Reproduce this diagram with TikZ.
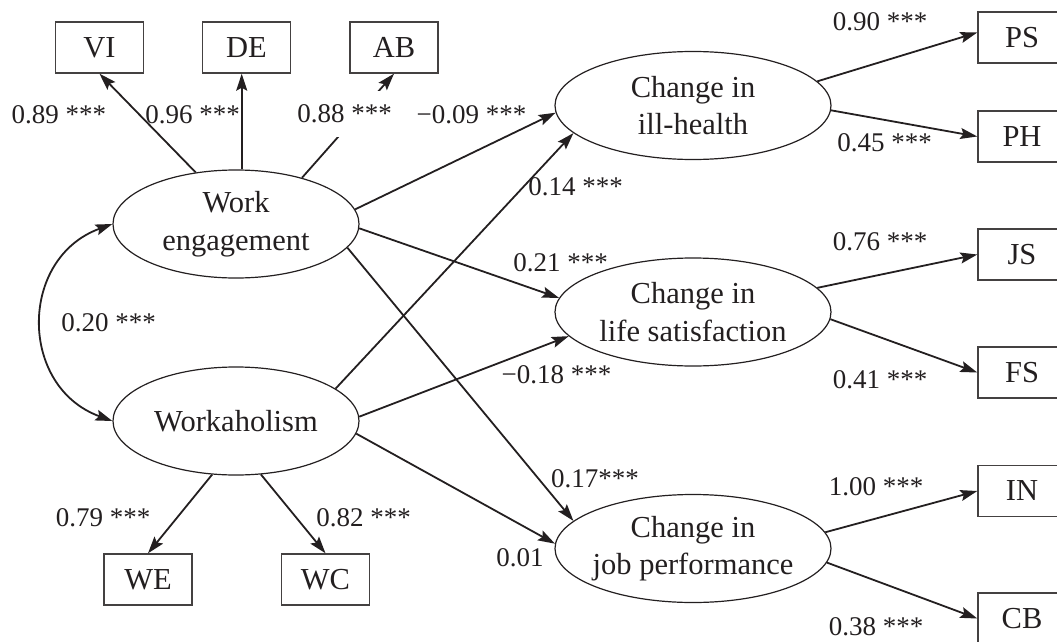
\documentclass[tikz,border=0pt]{standalone}
\usepackage{fontspec}
\setmainfont{Liberation Serif}
\usetikzlibrary{arrows.meta,shapes.geometric}
\definecolor{ink}{HTML}{231F20}
\tikzset{latent/.style={ellipse,draw=ink,line width=1.2pt,minimum width=#1,minimum height=108pt,
  inner sep=0pt,inner xsep=-12pt,align=center,text=ink,font=\fontsize{30.5}{37.5}\selectfont},
  latent/.default=246pt}
\tikzset{indicator/.style={rectangle,draw=ink!85,line width=1.4pt,minimum width=88pt,minimum height=51pt,
  inner sep=0pt,text=ink,font=\fontsize{30.5}{37.5}\selectfont}}
\tikzset{coef/.style={inner sep=0pt,text=ink,font=\fontsize{27}{32}\selectfont}}
\tikzset{load/.style={->,line width=1.8pt,color=ink}}

\begin{document}
\begin{tikzpicture}[x=1pt,y=-1pt,>={Stealth[length=17pt,width=11pt,inset=3pt]}]
\useasboundingbox (0,0) rectangle (1057,642);
% latent factors
\node (engage) [latent] at (236,224) {Work\\engagement};
\node (workah) [latent] at (236,421) {Workaholism};
\node (illhealth) [latent=276pt] at (693,105.5) {Change in\\ill-health};
\node (lifesat) [latent=276pt] at (693,312) {Change in\\life satisfaction};
\node (jobperf) [latent=276pt] at (693,548.5) {Change in\\job performance};
% indicators
\node (vi) [indicator] at (99.5,47.5) {VI};
\node (de) [indicator] at (246.5,47.5) {DE};
\node (ab) [indicator] at (394,47.5) {AB};
\node (we) [indicator] at (148,579.5) {WE};
\node (wc) [indicator] at (325.5,579.5) {WC};
\node (ps) [indicator] at (1022,37.5) {PS};
\node (ph) [indicator] at (1022,136.5) {PH};
\node (js) [indicator] at (1022,254.5) {JS};
\node (fs) [indicator] at (1022,372.5) {FS};
\node (in) [indicator] at (1022,491) {IN};
\node (cb) [indicator] at (1022,618.5) {CB};
%
\path[load] (engage.128) edge (vi.south);
\path[load] (engage.84) edge (engage.84 |- de.south);
\path[load] (engage.35) edge (ab.south);
\path[load] (workah.246) edge (we.north);
\path[load] (workah.-65) edge (wc.north);
\path[load,<->] (engage.west) edge [out=200,in=160,looseness=1.3] (workah.west);
%
\path[load] (engage.7) edge (illhealth.183);
\path[load] (engage.-2) edge (lifesat.174);
\path[load] (engage.-12) edge (jobperf.167);
\path[load] (workah.18) edge (illhealth.193);
\path[load] (workah.2) edge (lifesat.191);
\path[load] (workah.-6) edge (jobperf.178);
%
\path[load] (illhealth.11) edge ([yshift=5pt]ps.west);
\path[load] (illhealth.-2) edge (ph.west);
\path[load] (lifesat.11) edge (js.west);
\path[load] (lifesat.-3) edge (fs.west);
\path[load] (jobperf.7) edge (in.west);
\path[load] (jobperf.-6) edge (cb.west);
% coefficients
\node (c089) [coef] at (59,115) {0.89 ***};
\node (c096) [coef] at (192.5,115) {0.96 ***};
\node (c088) [coef,fill=white,minimum height=46pt] at (344.5,114) {0.88 ***};
\node (c009) [coef] at (471.5,115) {−0.09 ***};
\node (c014) [coef] at (575.5,187) {0.14 ***};
\node (c021) [coef] at (560.5,263) {0.21 ***};
\node (c018) [coef] at (556.5,375) {−0.18 ***};
\node (c017) [coef] at (595,479) {0.17***};
\node (c001) [coef] at (520,558) {0.01};
\node (c020) [coef] at (108.5,323) {0.20 ***};
\node (c079) [coef] at (103,518) {0.79 ***};
\node (c082) [coef] at (363.5,518) {0.82 ***};
\node (c090) [coef] at (880,22) {0.90 ***};
\node (c045) [coef] at (884.5,143) {0.45 ***};
\node (c076) [coef] at (880,242) {0.76 ***};
\node (c041) [coef] at (880,380) {0.41 ***};
\node (c100) [coef] at (876,487) {1.00 ***};
\node (c038) [coef] at (876,627) {0.38 ***};
\end{tikzpicture}
\end{document}
